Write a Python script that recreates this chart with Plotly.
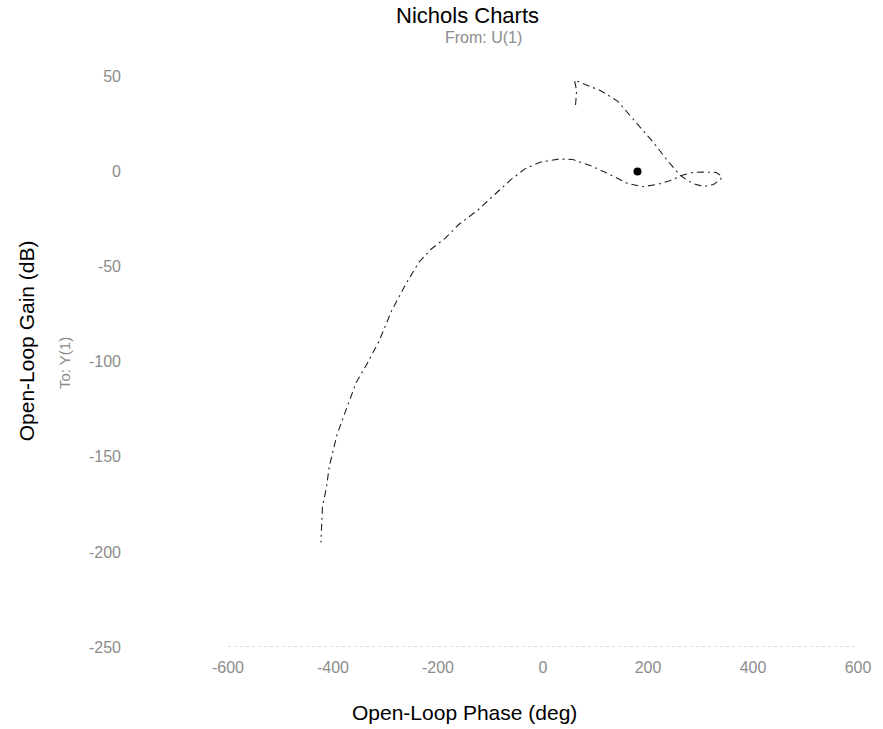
import plotly.graph_objects as go

# Nichols response: open-loop phase (deg) and gain (dB)
phase_deg = [62, 64, 60, 79, 110, 142, 167, 193, 212, 237, 261,
             285, 306, 325, 338, 341, 330, 306, 285, 265,
             240, 218, 190, 161, 123, 91, 57, 32, -4, -34, -60,
             -98, -123, -161, -186, -214, -237, -261, -288, -312,
             -335, -356, -375, -392, -407, -413, -420, -423]
gain_db = [35, 42.5, 48, 46, 42.5, 37, 29, 20.5, 14.7, 5.8, -2,
           -6.3, -7.9, -6.8, -4.2, -2.5, -0.5, -0.3, -0.5, -2,
           -5, -6.8, -8.0, -6.3, -1, 3, 6.3, 6.6, 5, 1.5, -4,
           -13.6, -20, -28, -35, -41, -48, -59, -73, -89,
           -101, -111, -125, -138, -155, -167, -176, -195]

# Critical point marker
crit_phase = [180]
crit_gain = [0]

x_ticks = [-600, -400, -200, 0, 200, 400, 600]
y_ticks = [-250, -200, -150, -100, -50, 0, 50]

FONT = "Liberation Sans, Arial, Helvetica, sans-serif"
TICK_GRAY = "#8c8c8c"

fig = go.Figure()
fig.add_trace(go.Scatter(
    x=phase_deg, y=gain_db, mode="lines",
    line=dict(color="#222222", width=1.1, dash="7px,4px,2px,4px"),
    showlegend=False, hoverinfo="skip",
))
fig.add_trace(go.Scatter(
    x=crit_phase, y=crit_gain, mode="markers",
    marker=dict(color="black", size=8),
    showlegend=False, hoverinfo="skip",
))

# faint bottom axis line
fig.add_shape(type="line", xref="x", yref="y", x0=-600, x1=600, y0=-250, y1=-250,
              line=dict(color="#b4b4b4", width=1, dash="dot"))

fig.update_layout(
    width=883, height=729,
    margin=dict(l=228, r=21, t=65, b=82),
    paper_bgcolor="white", plot_bgcolor="white",
    font=dict(family=FONT),
    xaxis=dict(range=[-600, 600], tickvals=x_ticks, ticktext=[str(v) for v in x_ticks],
               showgrid=False, zeroline=False, showline=False, ticks="",
               tickfont=dict(size=16, color=TICK_GRAY), ticklabelstandoff=9),
    yaxis=dict(range=[-250, 56], tickvals=y_ticks, ticktext=[str(v) for v in y_ticks],
               showgrid=False, zeroline=False, showline=False, ticks="",
               tickfont=dict(size=16, color=TICK_GRAY), ticklabelstandoff=106),
    annotations=[
        dict(text="Nichols Charts", xref="paper", yref="paper", x=(469 - 228) / 634,
             y=1 + (65 - 15) / 582, xanchor="center", yanchor="middle", showarrow=False,
             font=dict(size=22, color="black", family=FONT)),
        dict(text="From: U(1)", xref="paper", yref="paper", x=(485 - 228) / 634,
             y=1 + (65 - 38) / 582, xanchor="center", yanchor="middle", showarrow=False,
             font=dict(size=16, color=TICK_GRAY, family=FONT)),
        dict(text="Open-Loop Phase (deg)", xref="paper", yref="paper", x=(466 - 228) / 634,
             y=-(712 - 647) / 582, xanchor="center", yanchor="middle", showarrow=False,
             font=dict(size=21, color="black", family=FONT)),
        dict(text="Open-Loop Gain (dB)", xref="paper", yref="paper", x=-(228 - 25) / 634,
             y=(647 - 341) / 582, xanchor="center", yanchor="middle", showarrow=False,
             textangle=-90, font=dict(size=21, color="black", family=FONT)),
        dict(text="To: Y(1)", xref="paper", yref="paper", x=-(228 - 63) / 634,
             y=(647 - 363) / 582, xanchor="center", yanchor="middle", showarrow=False,
             textangle=-90, font=dict(size=15, color=TICK_GRAY, family=FONT)),
    ],
)

fig.write_html("out.html")
